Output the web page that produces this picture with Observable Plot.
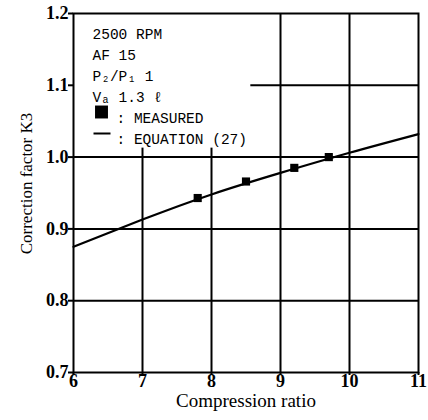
<!DOCTYPE html>
<html><head><meta charset="utf-8">
<script src="https://cdn.jsdelivr.net/npm/d3@7"></script>
<script src="https://cdn.jsdelivr.net/npm/@observablehq/plot@0.6"></script>
<style>html,body{margin:0;padding:0;background:#fff} svg{display:block}</style>
</head><body><div id="chart"></div>
<script>
// ---- data ----
const xTicks = [6, 7, 8, 9, 10, 11];
const yTicks = [0.7, 0.8, 0.9, 1.0, 1.1, 1.2];
const measuredX = [7.8, 8.5, 9.2, 9.7];
const measuredY = [0.943, 0.966, 0.985, 1.0];
const equationX = [6, 7, 8, 9, 10, 11];
const equationY = [0.875, 0.913, 0.948, 0.978, 1.006, 1.032];
const conditionLines = ["2500 RPM", "AF 15", "P₂/P₁ 1", "Vₐ 1.3 ℓ"];
const legendLabels = [": MEASURED", ": EQUATION (27)"];
const xLabel = "Compression ratio";
const yLabel = "Correction factor K3";
// grid lines partly hidden by the legend block
const gridXFull = [9, 10];
const gridXShort = [7, 8];
const gridYFull = [0.8, 0.9, 1.0];
const gridYShort = [1.1];
const legendRightX = 8.57;
const legendBottomY = 1.0125;

const measured = measuredX.map((x, i) => ({x, y: measuredY[i]}));
const equation = equationX.map((x, i) => ({x, y: equationY[i]}));

const dash = {draw(ctx, size) { const w = Math.sqrt(size / Math.PI); ctx.moveTo(-w, 0); ctx.lineTo(w, 0); }};

const serif = "'Liberation Serif', 'Times New Roman', serif";
const mono = "'Liberation Mono', 'DejaVu Sans Mono', monospace";

const chart = Plot.plot({
  width: 428,
  height: 420,
  marginLeft: 73,
  marginRight: 10,
  marginTop: 13,
  marginBottom: 48,
  style: {fontFamily: serif, color: "black", background: "white"},
  x: {domain: [6, 11]},
  y: {domain: [0.7, 1.2]},
  marks: [
    Plot.ruleX(gridXFull, {stroke: "black", strokeWidth: 2}),
    Plot.ruleX(gridXShort, {y1: 0.7, y2: legendBottomY, stroke: "black", strokeWidth: 2}),
    Plot.ruleY(gridYFull, {stroke: "black", strokeWidth: 2}),
    Plot.ruleY(gridYShort, {x1: legendRightX, x2: 11, stroke: "black", strokeWidth: 2}),
    Plot.frame({stroke: "black", strokeWidth: 2}),
    Plot.axisX({ticks: xTicks, tickSize: 3, tickPadding: -1, fontSize: 18, fontWeight: "bold", label: null, tickFormat: d => String(d), strokeWidth: 2}),
    Plot.axisY({ticks: yTicks, tickSize: 5, tickPadding: 0, fontSize: 18, fontWeight: "bold", label: null, tickFormat: d3.format(".1f"), strokeWidth: 2}),
    Plot.line(equation, {x: "x", y: "y", curve: "natural", stroke: "black", strokeWidth: 2.2}),
    Plot.dot(measured, {x: "x", y: "y", symbol: "square", r: 4.6, fill: "black", stroke: "none"}),
    Plot.text([conditionLines.join("\n")], {frameAnchor: "top-left", textAnchor: "start", lineAnchor: "top", dx: 19, dy: 11, fontSize: 14.5, lineHeight: 1.448, fontFamily: mono, fill: "black"}),
    Plot.text([legendLabels.join("\n")], {frameAnchor: "top-left", textAnchor: "start", lineAnchor: "top", dx: 43, dy: 95, fontSize: 14.5, lineHeight: 1.448, fontFamily: mono, fill: "black"}),
    Plot.dot([0], {frameAnchor: "top-left", dx: 28, dy: 98.5, symbol: "square", r: 7.3, fill: "black", stroke: "none"}),
    Plot.dot([0], {frameAnchor: "top-left", dx: 28.5, dy: 120, symbol: dash, r: 8.5, fill: "none", stroke: "black", strokeWidth: 2}),
    Plot.text([xLabel], {frameAnchor: "bottom", lineAnchor: "top", dy: 20.5, fontSize: 19, fill: "black"}),
    Plot.text([yLabel], {frameAnchor: "left", rotate: -90, lineAnchor: "top", textAnchor: "middle", dx: -54, dy: -9.5, fontSize: 17, fill: "black"})
  ]
});
document.getElementById("chart").append(chart);
</script>
</body></html>
